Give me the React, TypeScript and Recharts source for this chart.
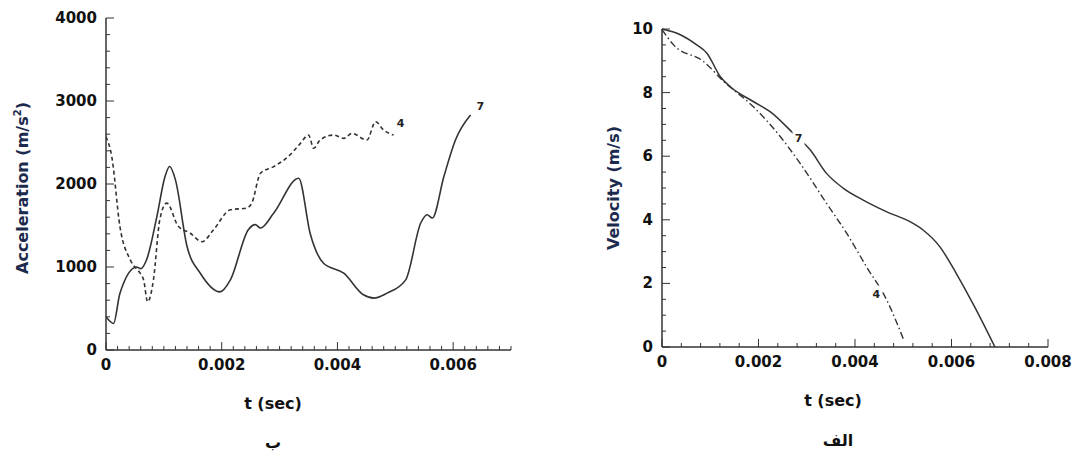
import { LineChart, Line, XAxis, YAxis, ReferenceDot } from "recharts";

// Left panel (ب): acceleration vs time
const accT7 = [0, 0.00013, 0.00024, 0.00053, 0.0006, 0.0007, 0.00088, 0.00102, 0.0011, 0.0012, 0.0014, 0.00163, 0.00197, 0.00215, 0.00246, 0.00258, 0.00267, 0.0029, 0.00333, 0.00353, 0.00376, 0.00411, 0.00445, 0.00463, 0.00486, 0.00518, 0.00544, 0.00555, 0.00564, 0.00584, 0.00604, 0.0063];
const acc7 = [400, 320, 680, 1000, 980, 1085, 1610, 2090, 2210, 2050, 1250, 925, 700, 845, 1450, 1510, 1470, 1650, 2070, 1400, 1045, 925, 665, 625, 685, 845, 1530, 1630, 1590, 2090, 2530, 2830];
const accT4 = [0, 0.0001, 0.00024, 0.00042, 0.00059, 0.00065, 0.00072, 0.00082, 0.00093, 0.00105, 0.00125, 0.00145, 0.00166, 0.00186, 0.00215, 0.00243, 0.00252, 0.00267, 0.0029, 0.00318, 0.00336, 0.0035, 0.00359, 0.0037, 0.00394, 0.00411, 0.00425, 0.00451, 0.00466, 0.0048, 0.00497];
const acc4 = [2570, 2330, 1490, 1085, 925, 845, 580, 845, 1570, 1770, 1490, 1410, 1305, 1450, 1690, 1710, 1770, 2130, 2210, 2350, 2490, 2590, 2430, 2530, 2590, 2550, 2610, 2530, 2750, 2650, 2590];

// Right panel (الف): velocity vs time
const velT7 = [0, 0.00038, 0.00072, 0.00093, 0.00121, 0.00141, 0.00189, 0.00224, 0.00272, 0.00307, 0.00341, 0.00376, 0.00417, 0.00466, 0.00514, 0.00541, 0.00576, 0.0061, 0.00648, 0.0069];
const vel7 = [10, 9.82, 9.5, 9.24, 8.5, 8.19, 7.72, 7.4, 6.72, 6.2, 5.46, 4.99, 4.62, 4.25, 3.94, 3.68, 3.15, 2.31, 1.26, 0];
const velT4 = [0, 0.00024, 0.00086, 0.00128, 0.00189, 0.00245, 0.00286, 0.00341, 0.00383, 0.00424, 0.00466, 0.005];
const vel4 = [9.98, 9.5, 8.98, 8.35, 7.56, 6.62, 5.78, 4.52, 3.57, 2.52, 1.47, 0.26];

const accXTicks = Array.from({ length: 36 }, (_, i) => +(i * 0.0002).toFixed(4));
const accYTicks = Array.from({ length: 21 }, (_, i) => i * 200);
const velXTicks = Array.from({ length: 21 }, (_, i) => +(i * 0.0004).toFixed(4));
const velYTicks = Array.from({ length: 21 }, (_, i) => i * 0.5);

const toPts = (xs: number[], ys: number[]) => xs.map((t, i) => ({ t, v: ys[i] }));

const FONT = "'DejaVu Sans', sans-serif";
const INK = "#333";

const fmtX = (v: number) => (v === 0 ? "0" : v.toFixed(3));

const makeXTick = (major: number) => (props: any) => {
  const { x, y, payload } = props;
  const v = payload.value;
  const isMajor = Math.abs(v / major - Math.round(v / major)) < 1e-6;
  return (
    <g>
      <line x1={x} x2={x} y1={y} y2={y - (isMajor ? 8 : 4)} stroke={INK} strokeWidth={1} />
      {isMajor && (
        <text x={x} y={y + 20} textAnchor="middle" fontFamily={FONT} fontWeight="bold" fontSize={15} fill="#111">
          {fmtX(v)}
        </text>
      )}
    </g>
  );
};

const makeYTick = (major: number) => (props: any) => {
  const { x, y, payload } = props;
  const v = payload.value;
  const isMajor = Math.abs(v / major - Math.round(v / major)) < 1e-6;
  return (
    <g>
      <line x1={x} x2={x + (isMajor ? 8 : 4)} y1={y} y2={y} stroke={INK} strokeWidth={1} />
      {isMajor && (
        <text x={x - 9} y={y + 5} textAnchor="end" fontFamily={FONT} fontWeight="bold" fontSize={15} fill="#111">
          {v}
        </text>
      )}
    </g>
  );
};

const CurveLabel = (props: any) => {
  const { cx, cy, text, gap } = props;
  return (
    <g>
      {gap && <rect x={cx - 6} y={cy - 8} width={12} height={16} fill="#fff" />}
      <text x={cx} y={cy + 4} textAnchor="middle" fontFamily={FONT} fontWeight="bold" fontSize={11} fill="#222">
        {text}
      </text>
    </g>
  );
};

const abs = (style: any) => ({ position: "absolute" as const, fontFamily: FONT, fontWeight: "bold" as const, ...style });

export default function App() {
  return (
    <div style={{ position: "absolute", left: 0, top: 0, width: 1075, height: 455, background: "#fff" }}>
      <div style={{ position: "absolute", left: 0, top: 0 }}>
        <LineChart width={530} height={380} margin={{ top: 18, right: 19, left: 105, bottom: 29 }}>
          <XAxis dataKey="t" type="number" domain={[0, 0.007]} ticks={accXTicks} allowDataOverflow
            height={1} tickSize={0} tickMargin={0} tickLine={false} stroke={INK} strokeWidth={1.5}
            tick={makeXTick(0.002)} interval={0} />
          <YAxis dataKey="v" type="number" domain={[0, 4000]} ticks={accYTicks}
            width={1} tickSize={0} tickMargin={0} tickLine={false} stroke={INK} strokeWidth={1.5}
            tick={makeYTick(1000)} interval={0} />
          <Line data={toPts(accT4, acc4)} dataKey="v" type="monotone" stroke={INK} strokeWidth={1.6}
            strokeDasharray="4 3" dot={false} isAnimationActive={false} />
          <Line data={toPts(accT7, acc7)} dataKey="v" type="monotone" stroke={INK} strokeWidth={1.6}
            dot={false} isAnimationActive={false} />
          <ReferenceDot x={0.00509} y={2730} r={0} shape={(p: any) => <CurveLabel {...p} text="4" />} />
          <ReferenceDot x={0.00647} y={2935} r={0} shape={(p: any) => <CurveLabel {...p} text="7" />} />
        </LineChart>
      </div>

      <div style={{ position: "absolute", left: 580, top: 0 }}>
        <LineChart width={495} height={380} margin={{ top: 29, right: 27, left: 81, bottom: 32 }}>
          <XAxis dataKey="t" type="number" domain={[0, 0.008]} ticks={velXTicks}
            height={1} tickSize={0} tickMargin={0} tickLine={false} stroke={INK} strokeWidth={1.5}
            tick={makeXTick(0.002)} interval={0} />
          <YAxis dataKey="v" type="number" domain={[0, 10]} ticks={velYTicks}
            width={1} tickSize={0} tickMargin={0} tickLine={false} stroke={INK} strokeWidth={1.5}
            tick={makeYTick(2)} interval={0} />
          <Line data={toPts(velT4, vel4)} dataKey="v" type="monotone" stroke={INK} strokeWidth={1.4}
            strokeDasharray="7 3 1.5 3" dot={false} isAnimationActive={false} />
          <Line data={toPts(velT7, vel7)} dataKey="v" type="monotone" stroke={INK} strokeWidth={1.5}
            dot={false} isAnimationActive={false} />
          <ReferenceDot x={0.00283} y={6.56} r={0} shape={(p: any) => <CurveLabel {...p} text="7" gap />} />
          <ReferenceDot x={0.00444} y={1.68} r={0} shape={(p: any) => <CurveLabel {...p} text="4" gap />} />
        </LineChart>
      </div>

      <div style={abs({ left: 22, top: 188, fontSize: 16, color: "#1c2a4d", whiteSpace: "nowrap", transform: "translate(-50%, -50%) rotate(-90deg)" })}>
        Acceleration (m/s<sup style={{ fontSize: 10 }}>2</sup>)
      </div>
      <div style={abs({ left: 613, top: 188, fontSize: 16, color: "#1c2a4d", whiteSpace: "nowrap", transform: "translate(-50%, -50%) rotate(-90deg)" })}>
        Velocity (m/s)
      </div>
      <div style={abs({ left: 273, top: 403, fontSize: 16, color: "#111", transform: "translate(-50%, -50%)" })}>t (sec)</div>
      <div style={abs({ left: 833, top: 400, fontSize: 16, color: "#111", transform: "translate(-50%, -50%)" })}>t (sec)</div>
      <div style={abs({ left: 273, top: 442, fontSize: 16, color: "#111", transform: "translate(-50%, -50%)" })} dir="rtl">ب</div>
      <div style={abs({ left: 838, top: 440, fontSize: 16, color: "#111", transform: "translate(-50%, -50%)" })} dir="rtl">الف</div>
    </div>
  );
}
